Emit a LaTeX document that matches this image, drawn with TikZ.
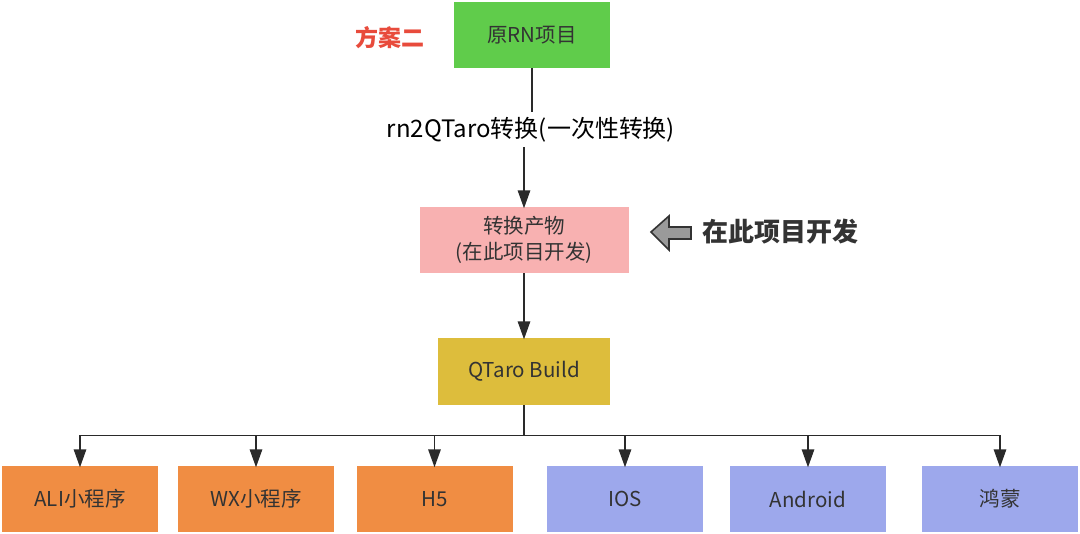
\documentclass[tikz,border=0pt]{standalone}
\usepackage{fontspec}
\setmainfont{Noto Sans CJK SC}
\usetikzlibrary{arrows.meta}
\definecolor{cgreen}{HTML}{60CC4B}
\definecolor{cpink}{HTML}{F8B1B1}
\definecolor{cgold}{HTML}{DDBD3C}
\definecolor{corange}{HTML}{F08D43}
\definecolor{clav}{HTML}{9DA8EC}
\definecolor{ctext}{HTML}{333333}
\definecolor{cline}{HTML}{2A2A2A}
\definecolor{cred}{HTML}{E84B3C}
\definecolor{cgray}{HTML}{9A9A9A}
\begin{document}
\begin{tikzpicture}[x=1pt,y=-1pt,
  box/.style={draw=none,minimum width=156pt,minimum height=66pt,inner sep=0pt,
    text=ctext,font=\fontsize{20.5}{26}\selectfont,align=center},
  conn/.style={draw=cline,line width=1.5pt},
  arr/.style={conn,-{Triangle[length=18pt,width=12.5pt]},shorten >=-1.5pt}]
\useasboundingbox (0,0) rectangle (1080,534);
\fill[white] (0,0) rectangle (1080,534);
% top nodes
\node[box,fill=cgreen] (rn) at (532,35) {原RN项目};
\node[text=cred,font=\bfseries\fontsize{23}{27}\selectfont] (fa) at (389.5,38) {方案二};
\node[inner sep=0pt,minimum height=35pt,text=black,font=\fontsize{24}{29}\selectfont] (lbl) at (531,129.5) {rn2QTaro转换(一次性转换)};
\node[box,fill=cpink,minimum width=209pt,minimum height=66pt] (prod) at (524,240) {转换产物\\(在此项目开发)};
\node[box,fill=cgold,minimum width=172pt,minimum height=67pt] (build) at (524,371.5) {QTaro Build};
% hollow arrow and bold label
\filldraw[fill=cgray,draw=ctext,line width=1.6pt,line join=miter]
  (651,232) -- (669,216) -- (669,227) -- (691,227) -- (691,239) -- (669,239) -- (669,250) -- cycle;
\node[anchor=west,text=ctext,font=\bfseries\fontsize{26}{31}\selectfont] (dev) at (699,232) {在此项目开发};
% bottom nodes
\node[box,fill=corange] (ali) at (80,499) {ALI小程序};
\node[box,fill=corange] (wx) at (256,499) {WX小程序};
\node[box,fill=corange] (h5) at (434.5,499) {H5};
\node[box,fill=clav] (ios) at (625,499) {IOS};
\node[box,fill=clav] (andr) at (808,499) {Android};
\node[box,fill=clav] (hm) at (1000,499) {鸿蒙};
% connectors
\draw[conn] (rn.south) -- (rn.south |- lbl.north);
\draw[arr] (prod.north |- lbl.south) -- (prod.north);
\draw[arr] (prod.south) -- (build.north);
\coordinate (bus) at (524,435.5);
\draw[conn] (build.south) -- (bus);
\draw[conn] (ali.north |- bus) -- (hm.north |- bus);
\foreach \n in {ali,wx,h5,ios,andr,hm}{
  \draw[arr] (\n.north |- bus) -- (\n.north);
}
\end{tikzpicture}
\end{document}
